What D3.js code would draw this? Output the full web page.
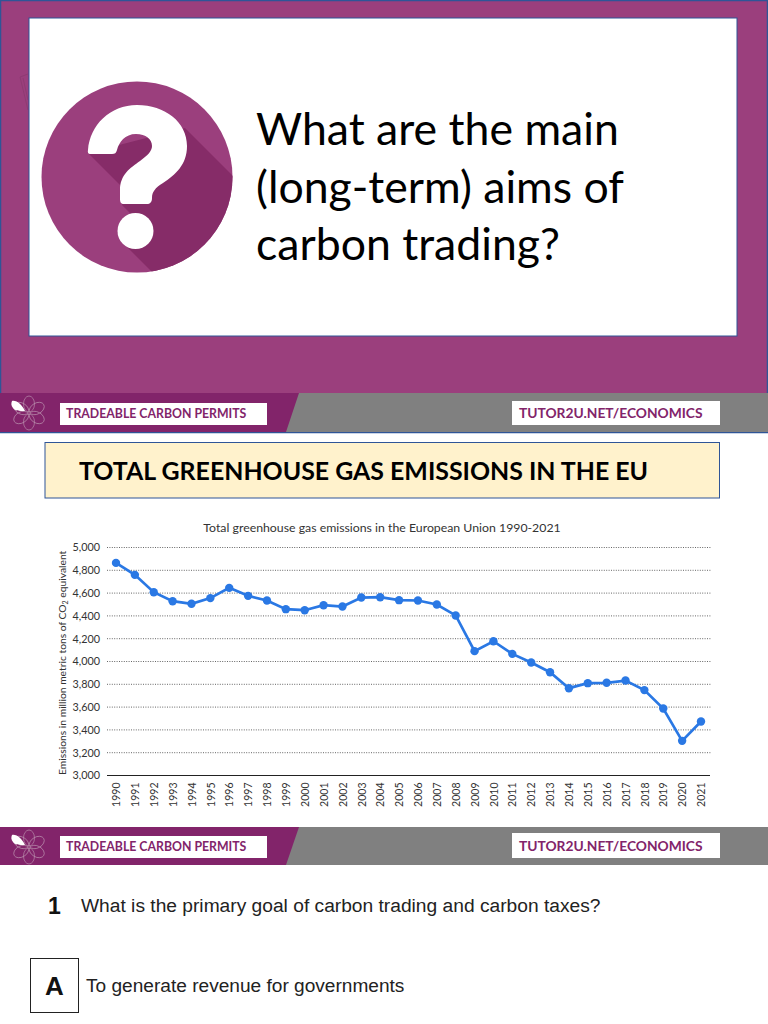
<!DOCTYPE html>
<html>
<head>
<meta charset="utf-8">
<script src="https://cdn.jsdelivr.net/npm/d3@7"></script>
<style>
  html, body { margin: 0; padding: 0; background: #fff; }
  svg { display: block; }
  .cal { font-family: Lato, sans-serif; }
  .ari { font-family: "Liberation Sans", Arial, sans-serif; }
</style>
</head>
<body>
<svg id="canvas" width="768" height="1024"></svg>
<script>
const years = [1990, 1991, 1992, 1993, 1994, 1995, 1996, 1997, 1998, 1999, 2000, 2001, 2002, 2003, 2004, 2005,
  2006, 2007, 2008, 2009, 2010, 2011, 2012, 2013, 2014, 2015, 2016, 2017, 2018, 2019, 2020, 2021];
const emissions = [4865, 4760, 4608, 4529, 4506, 4556, 4646, 4576, 4535, 4459, 4450, 4494, 4482, 4561, 4564, 4538,
  4535, 4500, 4404, 4091, 4178, 4067, 3991, 3906, 3766, 3810, 3813, 3833, 3749, 3588, 3304, 3474];
const yTicks = [3000, 3200, 3400, 3600, 3800, 4000, 4200, 4400, 4600, 4800, 5000];
const questionLines = ['What are the main', '(long-term) aims of', 'carbon trading?'];

const purple = '#9b3f7d';
const darkPurple = '#82246a';
const blue = '#2f5597';
const lineBlue = '#2a78e4';

const svg = d3.select('#canvas');

// top slide
svg.append('rect').attr('x', 0.5).attr('y', 0.5).attr('width', 767).attr('height', 432)
  .attr('fill', purple).attr('stroke', blue).attr('stroke-width', 1.5);
svg.append('path').attr('fill', 'none').attr('stroke', '#8a3a70').attr('stroke-width', 0.8)
  .attr('d', 'M28,74 L20,77 L28,110 M23,78 L28,100');
svg.append('rect').attr('x', 29).attr('y', 18).attr('width', 708).attr('height', 318)
  .attr('fill', '#fff').attr('stroke', blue);

const defs = svg.append('defs');
defs.append('clipPath').attr('id', 'disc').append('circle')
  .attr('cx', 137).attr('cy', 177).attr('r', 95.5);

const icon = svg.append('g');
icon.append('circle').attr('cx', 137).attr('cy', 177).attr('r', 95.5).attr('fill', purple);
icon.append('path')
  .attr('clip-path', 'url(#disc)')
  .attr('fill', '#862c68')
  .attr('d', 'M88,153 L122,187 L122,205 L135,218 L117,232 L128,248 L154,274 L260,274 L260,203 L185,128 Z');
icon.append('path')
  .attr('fill', '#fff')
  .attr('d', 'M88,150 C90,125 110,105 137,105 C165,105 187,122 187,146 C187,165 175,175 163,183 ' +
    'C155,188 152,192 152,198 C152,202 150,204 147,204 L124,204 C121,204 120,202 120,199 L120,190 ' +
    'C120,175 130,168 140,161 C148,155 152,151 152,146 C152,139 146,134 136,134 C125,134 119,142 117,150 ' +
    'C116,153 115,154 112,154 L90,154 C88,154 87.5,152 88,150 Z');
icon.append('circle').attr('cx', 135.5).attr('cy', 231).attr('r', 18).attr('fill', '#fff');

svg.append('g').selectAll('text')
  .data(questionLines)
  .join('text')
  .attr('class', 'cal')
  .attr('x', 256)
  .attr('y', (d, i) => 145 + i * 57.5)
  .attr('font-size', 44.6)
  .attr('fill', '#000')
  .text((d) => d);

// footer strip used twice
const drawFooter = (top, stripHeight, leftBox, rightBox, textY) => {
  const g = svg.append('g').attr('transform', `translate(0,${top})`);
  g.append('rect').attr('width', 768).attr('height', stripHeight).attr('fill', '#808080');
  g.append('path').attr('fill', darkPurple)
    .attr('d', `M0,0 L299,0 L286,${stripHeight} L0,${stripHeight} Z`);

  const flower = g.append('g').attr('transform', 'translate(29,20)');
  d3.range(6).forEach((i) => {
    flower.append('ellipse')
      .attr('cx', 0).attr('cy', -9).attr('rx', 5.5).attr('ry', 8)
      .attr('transform', `rotate(${i * 60})`)
      .attr('fill', 'none').attr('stroke', '#b88cab').attr('stroke-width', 0.7);
  });
  g.append('path').attr('fill', '#fff')
    .attr('d', 'M12,8 C17,7 22,12 25,18 C19,18 15,18 13,15 C11,13 11,10 12,8 Z');

  g.append('rect').attr('x', 60).attr('y', leftBox[0]).attr('width', 207).attr('height', leftBox[1]).attr('fill', '#fff');
  g.append('text').attr('class', 'cal').attr('x', 66).attr('y', textY)
    .attr('font-size', 12.3).attr('font-weight', 700).attr('fill', darkPurple)
    .text('TRADEABLE CARBON PERMITS');
  g.append('rect').attr('x', 512).attr('y', rightBox[0]).attr('width', 208).attr('height', rightBox[1]).attr('fill', '#fff');
  g.append('text').attr('class', 'cal').attr('x', 519).attr('y', textY)
    .attr('font-size', 13.8).attr('font-weight', 700).attr('fill', darkPurple)
    .text('TUTOR2U.NET/ECONOMICS');
};
drawFooter(393, 39, [10, 22], [8, 24], 25);
drawFooter(827, 38, [9, 22], [6, 25], 23.5);

// heading box
svg.append('rect').attr('x', 45).attr('y', 442.5).attr('width', 674.5).attr('height', 55.5)
  .attr('fill', '#fff2cc').attr('stroke', blue);
svg.append('text').attr('class', 'cal').attr('x', 79).attr('y', 480)
  .attr('font-size', 24.9).attr('font-weight', 700).attr('fill', '#000')
  .text('TOTAL GREENHOUSE GAS EMISSIONS IN THE EU');

// chart
const x = d3.scalePoint().domain(years).range([116, 701]);
const y = d3.scaleLinear().domain([3000, 5000]).range([775.5, 547.5]);

svg.append('text').attr('class', 'cal').attr('x', 382).attr('y', 532)
  .attr('text-anchor', 'middle').attr('font-size', 12.3).attr('fill', '#333')
  .text('Total greenhouse gas emissions in the European Union 1990-2021');

svg.append('g').selectAll('line')
  .data(yTicks.slice(1))
  .join('line')
  .attr('x1', 107).attr('x2', 711)
  .attr('y1', (d) => y(d)).attr('y2', (d) => y(d))
  .attr('stroke', '#666').attr('stroke-width', 1).attr('stroke-dasharray', '1 1.4');

const yAxis = svg.append('g').attr('transform', 'translate(107,0)')
  .call(d3.axisLeft(y).tickValues(yTicks).tickFormat(d3.format(',')).tickSize(0).tickPadding(7));
yAxis.select('.domain').remove();
yAxis.selectAll('text').attr('class', 'cal').attr('font-size', 10.8).attr('fill', '#333');

const xAxis = svg.append('g').attr('transform', 'translate(0,775.5)')
  .call(d3.axisBottom(x).tickSize(0).tickPadding(7).tickFormat(d3.format('d')));
xAxis.select('.domain').attr('d', 'M107,0H710').attr('stroke', '#222').attr('stroke-width', 1);
xAxis.selectAll('text').attr('class', 'cal').attr('font-size', 10.5).attr('fill', '#333')
  .attr('transform', 'rotate(-90)')
  .attr('text-anchor', 'end')
  .attr('x', -7).attr('y', 0).attr('dy', '0.35em');

const yLabel = svg.append('text').attr('class', 'cal')
  .attr('transform', 'translate(66,775) rotate(-90)')
  .attr('font-size', 10.3).attr('fill', '#333');
yLabel.append('tspan').text('Emissions in million metric tons of CO');
yLabel.append('tspan').attr('font-size', 7).attr('dy', 2).text('2');
yLabel.append('tspan').attr('dy', -2).text(' equivalent');

const pts = years.map((d, i) => [d, emissions[i]]);
svg.append('path').datum(pts)
  .attr('fill', 'none').attr('stroke', lineBlue).attr('stroke-width', 2.7)
  .attr('d', d3.line().x((d) => x(d[0])).y((d) => y(d[1])));
svg.append('g').selectAll('circle')
  .data(pts)
  .join('circle')
  .attr('cx', (d) => x(d[0])).attr('cy', (d) => y(d[1])).attr('r', 4.2)
  .attr('fill', lineBlue);

// quiz text
svg.append('text').attr('class', 'ari').attr('x', 48).attr('y', 914)
  .attr('font-size', 23).attr('font-weight', 700).attr('fill', '#111').text('1');
svg.append('text').attr('class', 'ari').attr('x', 81).attr('y', 912)
  .attr('font-size', 19.2).attr('fill', '#222').text('What is the primary goal of carbon trading and carbon taxes?');
svg.append('rect').attr('x', 30.5).attr('y', 958.5).attr('width', 48).attr('height', 54)
  .attr('fill', '#fff').attr('stroke', '#222');
svg.append('text').attr('class', 'ari').attr('x', 54.5).attr('y', 995)
  .attr('text-anchor', 'middle').attr('font-size', 26).attr('font-weight', 700).attr('fill', '#111').text('A');
svg.append('text').attr('class', 'ari').attr('x', 86).attr('y', 992)
  .attr('font-size', 19.1).attr('fill', '#222').text('To generate revenue for governments');
</script>
</body>
</html>
